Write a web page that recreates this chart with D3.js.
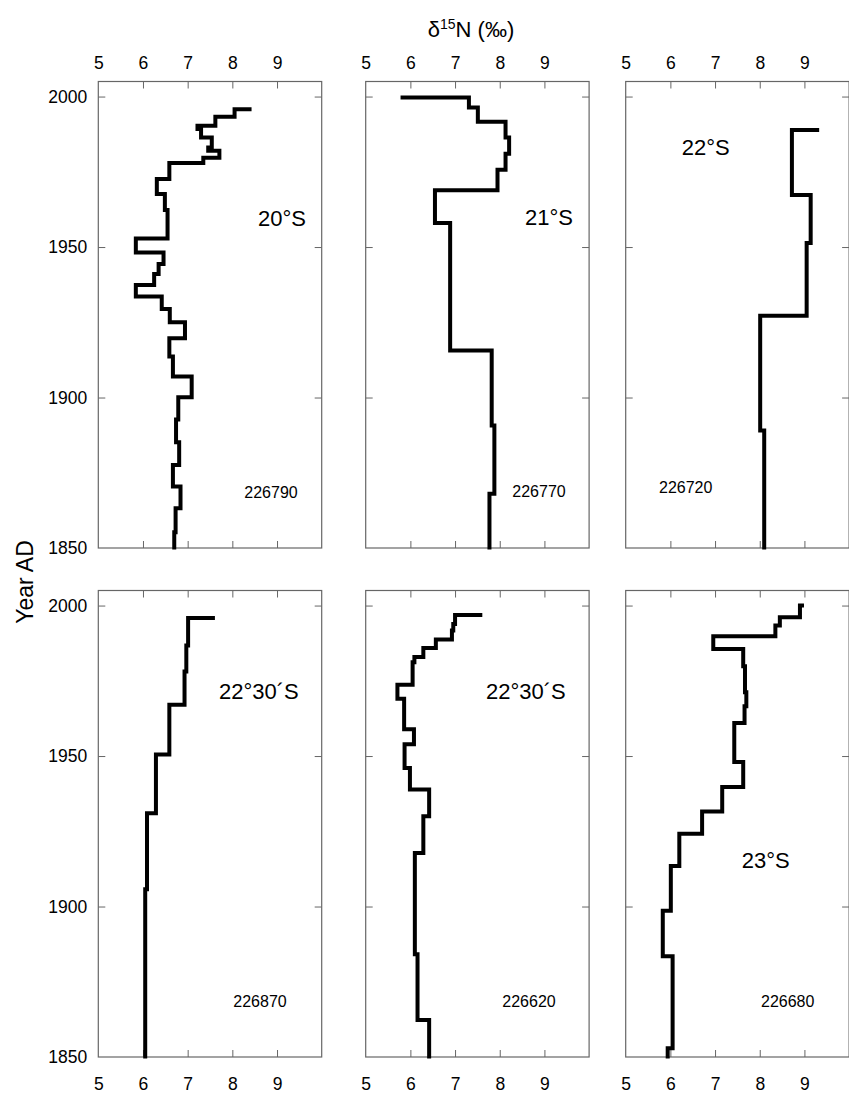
<!DOCTYPE html>
<html>
<head>
<meta charset="utf-8">
<script src="https://cdn.jsdelivr.net/npm/d3@7"></script>
<style>
body { margin: 0; background: #fff; }
svg { display: block; font-family: "Liberation Sans", Arial, sans-serif; }
</style>
</head>
<body>
<script>
// Each core: years[0] is the year of the top horizontal step (starting at vals[0]),
// then vals[i] holds from years[i-1] down to years[i]
var s226790_years = [1995.8, 1993.3, 1990.3, 1989.2, 1986.4, 1983.1, 1982.0, 1979.7, 1977.9, 1972.6, 1967.6, 1962.3, 1952.8, 1948.2, 1944.4, 1941.0, 1937.4, 1933.6, 1929.4, 1925.0, 1919.7, 1913.6, 1907.0, 1900.1, 1892.7, 1885.1, 1877.6, 1870.4, 1863.2, 1855.2, 1849.5]
var s226790_vals = [8.43, 8.05, 7.62, 7.22, 7.30, 7.54, 7.46, 7.71, 7.35, 6.59, 6.31, 6.49, 6.55, 5.84, 6.46, 6.35, 6.25, 5.84, 6.42, 6.60, 6.94, 6.59, 6.67, 7.09, 6.79, 6.74, 6.81, 6.67, 6.84, 6.73, 6.70]

var s226770_years = [1999.7, 1996.4, 1991.6, 1986.4, 1981.0, 1975.7, 1968.9, 1958.0, 1915.6, 1890.7, 1868.0, 1849.5]
var s226770_vals = [5.78, 7.31, 7.51, 8.13, 8.21, 8.13, 7.95, 6.55, 6.89, 7.82, 7.88, 7.77]

var s226720_years = [1988.9, 1967.3, 1951.3, 1927.2, 1889.0, 1849.5]
var s226720_vals = [9.33, 8.72, 9.14, 9.05, 8.01, 8.10]

var s226870_years = [1995.9, 1986.7, 1978.1, 1967.0, 1950.5, 1931.0, 1905.7, 1849.5]
var s226870_vals = [7.61, 7.01, 6.97, 6.93, 6.59, 6.29, 6.09, 6.05]

var s226620_years = [1996.9, 1993.9, 1991.7, 1988.7, 1985.9, 1982.9, 1981.2, 1973.7, 1969.0, 1958.9, 1953.9, 1946.0, 1938.9, 1930.0, 1917.8, 1884.1, 1862.3, 1849.5]
var s226620_vals = [7.61, 7.00, 6.96, 6.93, 6.57, 6.29, 6.09, 6.05, 5.71, 5.86, 6.08, 5.87, 5.99, 6.42, 6.29, 6.10, 6.16, 6.42]

var s226680_years = [2000.0, 1996.1, 1993.4, 1989.8, 1985.6, 1979.8, 1971.2, 1966.5, 1961.0, 1948.0, 1939.7, 1931.6, 1924.2, 1913.5, 1898.6, 1883.5, 1852.9, 1849.5]
var s226680_vals = [8.99, 8.90, 8.45, 8.35, 6.96, 7.63, 7.67, 7.70, 7.66, 7.43, 7.63, 7.16, 6.71, 6.20, 6.01, 5.83, 6.05, 5.94]

var xTicks = [5, 6, 7, 8, 9]
var yTicks = [2000, 1950, 1900, 1850]

var w = 849
var h = 1095
var colX = [98.3, 365.7, 625.7]
var rowY = [81.5, 590.5]
var pw = 223.4
var ph = 466.5

var panels = [
	{ row: 0, col: 0, name: "20°S", id: "226790", years: s226790_years, vals: s226790_vals, nx: 159.7, ny: 144.5, ix: 146, iy: 416 },
	{ row: 0, col: 1, name: "21°S", id: "226770", years: s226770_years, vals: s226770_vals, nx: 159.3, ny: 143.5, ix: 146.6, iy: 415.5 },
	{ row: 0, col: 2, name: "22°S", id: "226720", years: s226720_years, vals: s226720_vals, nx: 56, ny: 73.5, ix: 33.3, iy: 411 },
	{ row: 1, col: 0, name: "22°30´S", id: "226870", years: s226870_years, vals: s226870_vals, nx: 120.7, ny: 108, ix: 135, iy: 416.2 },
	{ row: 1, col: 1, name: "22°30´S", id: "226620", years: s226620_years, vals: s226620_vals, nx: 120.3, ny: 108, ix: 136.6, iy: 416.8 },
	{ row: 1, col: 2, name: "23°S", id: "226680", years: s226680_years, vals: s226680_vals, nx: 116, ny: 277.2, ix: 135.3, iy: 416.8 }
]

var svg = d3.select("body")
	.append("svg")
	.attr("width", w)
	.attr("height", h)

var xScale = d3.scaleLinear().domain([5, 10]).range([0, pw])
var yScale = d3.scaleLinear().domain([1850, 2005]).range([ph, 0])

function stepPoints(years, vals) {
	var pts = [[vals[0], years[0]]]
	for (var i = 1; i < vals.length; i++) {
		pts.push([vals[i], years[i - 1]])
		pts.push([vals[i], years[i]])
	}
	return pts
}

var line = d3.line()
	.x((d) => xScale(d[0]))
	.y((d) => yScale(d[1]))

panels.forEach(function (p) {
	var g = svg.append("g")
		.attr("transform", "translate(" + colX[p.col] + "," + rowY[p.row] + ")")

	// inner ticks on all four sides
	var tickStyle = function (sel) {
		sel.select(".domain").remove()
		sel.selectAll("line").attr("stroke", "#666")
		sel.selectAll("text").remove()
	}
	g.append("g").call(d3.axisTop(xScale).tickValues([6, 7, 8, 9]).tickSize(-7)).call(tickStyle)
	g.append("g").attr("transform", "translate(0," + ph + ")")
		.call(d3.axisBottom(xScale).tickValues([6, 7, 8, 9]).tickSize(-7)).call(tickStyle)
	g.append("g").call(d3.axisLeft(yScale).tickValues([2000, 1950, 1900]).tickSize(-7)).call(tickStyle)
	g.append("g").attr("transform", "translate(" + pw + ",0)")
		.call(d3.axisRight(yScale).tickValues([2000, 1950, 1900]).tickSize(-7)).call(tickStyle)

	g.append("rect")
		.attr("width", pw)
		.attr("height", ph)
		.attr("fill", "none")
		.attr("stroke", "#666")
		.attr("stroke-width", 1.2)

	// tick labels
	var labelStyle = function (sel) {
		sel.select(".domain").remove()
		sel.selectAll("line").remove()
		sel.selectAll("text").attr("font-size", "17.5px").attr("fill", "#000")
			.attr("font-family", "Liberation Sans, Arial, sans-serif")
	}
	if (p.row == 0) {
		g.append("g").call(d3.axisTop(xScale).tickValues(xTicks).tickFormat(d3.format("d")).tickSize(0).tickPadding(13)).call(labelStyle)
	} else {
		g.append("g").attr("transform", "translate(0," + ph + ")")
			.call(d3.axisBottom(xScale).tickValues(xTicks).tickFormat(d3.format("d")).tickSize(0).tickPadding(21)).call(labelStyle)
	}
	if (p.col == 0) {
		g.append("g").call(d3.axisLeft(yScale).tickValues(yTicks).tickFormat(d3.format("d")).tickSize(0).tickPadding(11)).call(labelStyle)
	}

	g.append("path")
		.datum(stepPoints(p.years, p.vals))
		.attr("d", line)
		.attr("fill", "none")
		.attr("stroke", "#000")
		.attr("stroke-width", 4)
		.attr("stroke-linejoin", "miter")

	g.append("text")
		.attr("x", p.nx)
		.attr("y", p.ny)
		.attr("font-size", "22px")
		.text(p.name)

	g.append("text")
		.attr("x", p.ix)
		.attr("y", p.iy)
		.attr("font-size", "16px")
		.text(p.id)
})

// axis titles
var title = svg.append("text")
	.attr("x", 471)
	.attr("y", 37)
	.attr("text-anchor", "middle")
	.attr("font-size", "22px")
title.append("tspan").text("δ")
title.append("tspan").attr("dy", "-8").attr("font-size", "14px").text("15")
title.append("tspan").attr("dy", "8").text("N (‰)")

svg.append("text")
	.attr("transform", "translate(33,582) rotate(-90)")
	.attr("text-anchor", "middle")
	.attr("font-size", "23px")
	.text("Year AD")
</script>
</body>
</html>
